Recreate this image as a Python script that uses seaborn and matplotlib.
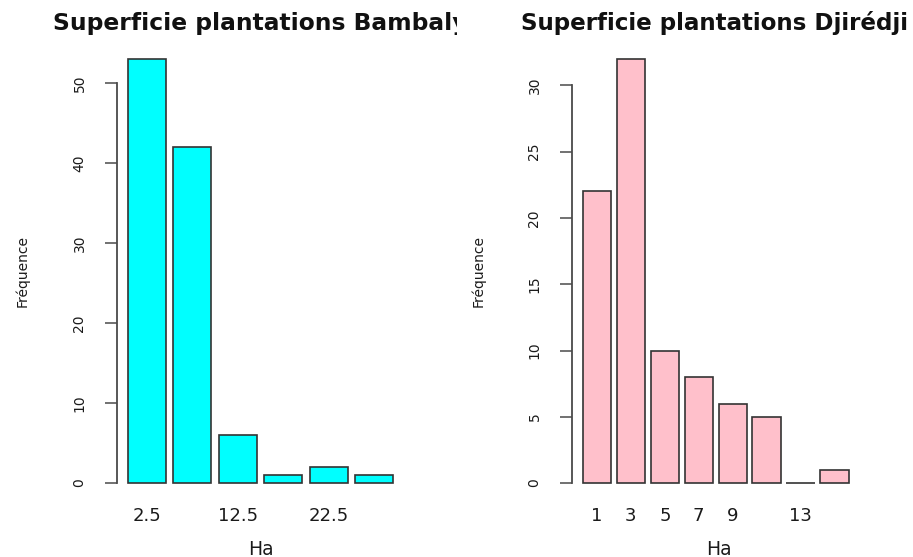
import matplotlib
matplotlib.use("Agg")
import matplotlib.pyplot as plt
import seaborn as sns
import pandas as pd
from matplotlib.transforms import Bbox, TransformedBbox

# Surface classes (Ha) and number of plantations per class
bamb_classes = ["2.5", "7.5", "12.5", "17.5", "22.5", "27.5"]
bamb_counts = [53, 42, 6, 1, 2, 1]
bamb_ticklabels = ["2.5", "", "12.5", "", "22.5", ""]
bamb_yticks = [0, 10, 20, 30, 40, 50]

djir_classes = ["1", "3", "5", "7", "9", "11", "13", "15"]
djir_counts = [22, 32, 10, 8, 6, 5, 0, 1]
djir_ticklabels = ["1", "3", "5", "7", "9", "", "13", ""]
djir_yticks = [0, 5, 10, 15, 20, 25, 30]

titles = ["Superficie plantations Bambaly", "Superficie plantations Djirédji"]
xlabel = "Ha"
ylabel = "Fréquence"

sns.set_theme(style="white")
plt.rcParams["font.family"] = ["DejaVu Sans"]

W, H = 913, 557
fig = plt.figure(figsize=(W / 100, H / 100), dpi=100)
fig.patch.set_facecolor("white")

ax1 = fig.add_axes([117 / W, 57 / H, 287 / W, 458 / H])
ax2 = fig.add_axes([572 / W, 57 / H, 293 / W, 458 / H])

panels = [
    (ax1, bamb_classes, bamb_counts, bamb_ticklabels, bamb_yticks, "#00FFFF", (-0.65, 5.65)),
    (ax2, djir_classes, djir_counts, djir_ticklabels, djir_yticks, "#FFC0CB", (-0.737, 7.903)),
]

axis_col = "#4a4a4a"
text_col = "#1a1a1a"
for ax, cats, counts, tlabels, yticks, col, xlim in panels:
    df = pd.DataFrame({"classe": cats, "n": counts})
    sns.barplot(data=df, x="classe", y="n", order=cats, color=col, saturation=1,
                width=1 / 1.2, edgecolor="#333333", linewidth=1.2, ax=ax)
    ymax = max(counts)
    ax.set_xlim(*xlim)
    ax.set_ylim(-0.04 * ymax, 1.04 * ymax)
    ax.set_xticks(range(len(cats)))
    ax.set_xticklabels(tlabels, fontsize=13, color=text_col)
    ax.set_yticks(yticks)
    ax.set_yticklabels([str(v) for v in yticks], fontsize=10, color=text_col,
                       rotation=90, va="center")
    ax.tick_params(axis="x", length=0, pad=5)
    ax.tick_params(axis="y", length=9, width=1.1, color=axis_col, pad=13, left=True)
    for s in ["top", "right", "bottom"]:
        ax.spines[s].set_visible(False)
    ax.spines["left"].set_bounds(0, yticks[-1])
    ax.spines["left"].set_color(axis_col)
    ax.spines["left"].set_linewidth(1.3)
    ax.set_facecolor("white")
    ax.set_xlabel(xlabel, fontsize=13.5, color=text_col)
    ax.xaxis.label.set_verticalalignment("center")
    ax.xaxis.set_label_coords(0.5, -0.107)
    ax.set_ylabel(ylabel, fontsize=10, color=text_col)
    ax.yaxis.label.set_verticalalignment("center")

ax1.yaxis.set_label_coords((22.5 - 117) / 287, 0.5)
ax2.yaxis.set_label_coords((478 - 572) / 293, 0.5)

# Panel titles; each one stays inside its own half of the figure
t1 = fig.text(260.5 / W, 1 - 30 / H, titles[0], ha="center", va="baseline",
              fontsize=16.8, fontweight="bold", color="#111111")
t1.set_clip_box(TransformedBbox(Bbox([[0, 0], [457 / W, 1]]), fig.transFigure))
t1.set_clip_on(True)
fig.text(714 / W, 1 - 30 / H, titles[1], ha="center", va="baseline",
         fontsize=16.6, fontweight="bold", color="#111111")

fig.savefig("out.png", dpi=100, facecolor="white")
